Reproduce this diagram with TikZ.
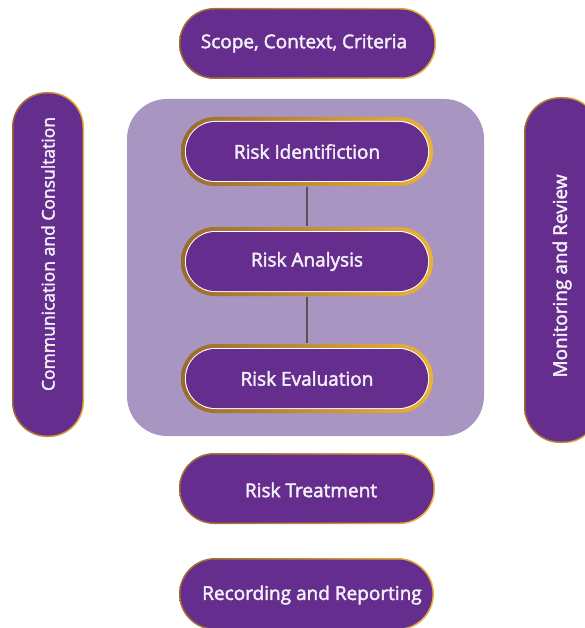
\documentclass[tikz,border=0pt]{standalone}
\usepackage{fontspec}
\setmainfont{Open Sans}[FakeBold=2.2]
\definecolor{dpurple}{HTML}{652D8E}
\definecolor{lpurple}{HTML}{A895C1}
\definecolor{goldA}{HTML}{9A6A2E}
\definecolor{goldB}{HTML}{F6E27A}
\definecolor{goldC}{HTML}{E9B23A}
\definecolor{linegray}{HTML}{555555}
\definecolor{txt}{HTML}{F5F0F8}
\begin{document}
\begin{tikzpicture}[x=1pt,y=-1pt,
  lbl/.style={text=txt, font=\fontsize{19}{22}\selectfont, inner sep=0},
  box/.style={lbl, minimum width=252, minimum height=70},
  goldrim/.style={left color=goldA, middle color=goldB, right color=goldC},
  link/.style={draw=linegray, line width=2}]
\useasboundingbox (0,0) rectangle (585,628);
\clip (0,0) rectangle (585,628);
% big light panel
\fill[lpurple, rounded corners=40] (127,99) rectangle (484,436);
% scope
\shade[goldrim, rounded corners=35] (179,8) rectangle (436,79);
\fill[dpurple, rounded corners=34] (180.5,9.5) rectangle (434.5,77.5);
\node[lbl] (scope) at (304,43.5) {Scope, Context, Criteria};
% inner boxes
\foreach \y in {117,227,344}{
  \shade[goldrim, rounded corners=34] (181,\y) rectangle (433,\y+69);
  \fill[white, rounded corners=30] (185,\y+4) rectangle (429,\y+65);
  \fill[dpurple, rounded corners=29] (186,\y+5) rectangle (428,\y+64);
}
\node[box] (ident) at (307,151.5) {Risk Identifiction};
\node[box] (anal) at (307,261.5) {Risk Analysis};
\node[box] (eval) at (307,378.5) {Risk Evaluation};
\draw[link] (ident.south) -- (anal.north);
\draw[link] (anal.south) -- (eval.north);
% treatment
\shade[goldrim, rounded corners=35] (179,453) rectangle (435,524);
\fill[dpurple, rounded corners=34] (180.5,454.5) rectangle (433.5,522.5);
\node[lbl] (treat) at (311,490) {Risk Treatment};
% recording
\shade[goldrim, rounded corners=36] (179,558) rectangle (434,630);
\fill[dpurple, rounded corners=35] (180.5,559.5) rectangle (432.5,628.5);
\node[lbl] (rec) at (312,595) {Recording and Reporting};
% left
\shade[goldrim, rounded corners=35] (12,92) rectangle (84,437);
\fill[dpurple, rounded corners=34] (13.5,93.5) rectangle (82.5,435.5);
\node[lbl, font=\fontsize{17.5}{20}\selectfont, rotate=90] (comm) at (48,254) {Communication and Consultation};
% right
\shade[goldrim, rounded corners=36] (524,97) rectangle (600,443);
\fill[dpurple, rounded corners=35] (525.5,98.5) rectangle (598.5,441.5);
\node[lbl, rotate=90] (mon) at (562,276) {Monitoring and Review};
\end{tikzpicture}
\end{document}
